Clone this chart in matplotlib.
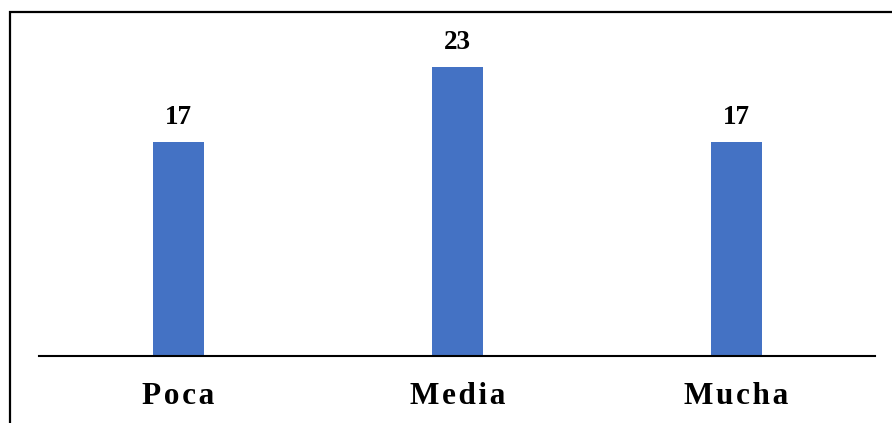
import matplotlib
matplotlib.use("Agg")
import matplotlib.pyplot as plt
from matplotlib.patches import Rectangle

categories = ["Poca", "Media", "Mucha"]
values = [17, 23, 17]

plt.rcParams["font.family"] = ["Liberation Serif", "DejaVu Serif"]

fig = plt.figure(figsize=(8.92, 4.23), dpi=100)
ax = fig.add_axes([39 / 892, 67 / 423, (875.5 - 39) / 892, 314 / 423])

x = range(len(categories))
ax.bar(x, values, width=0.183, color="#4472C4")

for xi, v in zip(x, values):
    ax.annotate(str(v), (xi, v), xytext=(0, 13), textcoords="offset points",
                ha="center", va="baseline", fontsize=19.5, fontweight="bold")

ax.set_xlim(-0.5, 2.5)
ax.set_ylim(0, 25)
ax.set_xticks(list(x))
spaced = ["\u200a".join(c) for c in categories]
ax.set_xticklabels(spaced, fontsize=22.5, fontweight="bold")
ax.tick_params(axis="x", length=0, pad=19)
ax.set_yticks([])
for side in ["top", "right", "left"]:
    ax.spines[side].set_visible(False)
ax.spines["bottom"].set_linewidth(1.5)

# outer frame, clipped at the right and bottom edges
fig.add_artist(Rectangle((9.5 / 892, -0.1), 1.0, 1.1 - 12 / 423,
                         transform=fig.transFigure, fill=False,
                         edgecolor="black", linewidth=1.6))

fig.savefig("out.png", dpi=100)
